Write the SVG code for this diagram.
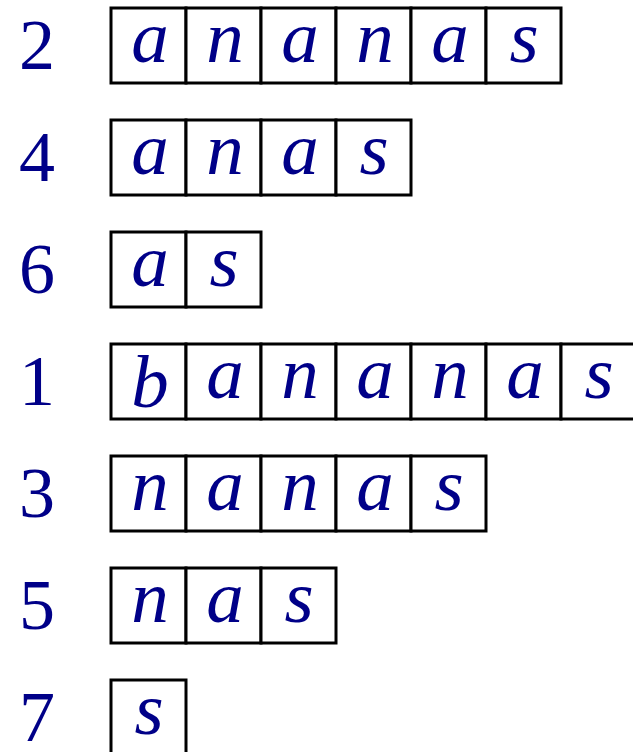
<svg xmlns="http://www.w3.org/2000/svg" width="633" height="752" viewBox="0 0 633 752">
<style>
rect.c{fill:#ffffff;stroke:#000000;stroke-width:3}
text{fill:#000088;font-family:"Liberation Serif","Times New Roman",serif;font-size:72px;text-anchor:middle}
text.l{font-style:italic;font-size:75px}
</style>
<rect x="0" y="0" width="633" height="752" fill="#ffffff"/>
<g id="row-2">
<text x="37" y="69">2</text>
<g id="r2c1"><rect class="c" x="111" y="8" width="75" height="75"/><text class="l" x="150" y="62">a</text></g>
<g id="r2c2"><rect class="c" x="186" y="8" width="75" height="75"/><text class="l" x="225" y="62">n</text></g>
<g id="r2c3"><rect class="c" x="261" y="8" width="75" height="75"/><text class="l" x="300" y="62">a</text></g>
<g id="r2c4"><rect class="c" x="336" y="8" width="75" height="75"/><text class="l" x="375" y="62">n</text></g>
<g id="r2c5"><rect class="c" x="411" y="8" width="75" height="75"/><text class="l" x="450" y="62">a</text></g>
<g id="r2c6"><rect class="c" x="486" y="8" width="75" height="75"/><text class="l" x="524" y="62">s</text></g>
</g>
<g id="row-4">
<text x="37" y="181">4</text>
<g id="r4c1"><rect class="c" x="111" y="120" width="75" height="75"/><text class="l" x="150" y="174">a</text></g>
<g id="r4c2"><rect class="c" x="186" y="120" width="75" height="75"/><text class="l" x="225" y="174">n</text></g>
<g id="r4c3"><rect class="c" x="261" y="120" width="75" height="75"/><text class="l" x="300" y="174">a</text></g>
<g id="r4c4"><rect class="c" x="336" y="120" width="75" height="75"/><text class="l" x="374" y="174">s</text></g>
</g>
<g id="row-6">
<text x="37" y="293">6</text>
<g id="r6c1"><rect class="c" x="111" y="232" width="75" height="75"/><text class="l" x="150" y="286">a</text></g>
<g id="r6c2"><rect class="c" x="186" y="232" width="75" height="75"/><text class="l" x="224" y="286">s</text></g>
</g>
<g id="row-1">
<text x="37" y="405">1</text>
<g id="r1c1"><rect class="c" x="111" y="344" width="75" height="75"/><text class="l" x="150" y="407">b</text></g>
<g id="r1c2"><rect class="c" x="186" y="344" width="75" height="75"/><text class="l" x="225" y="398">a</text></g>
<g id="r1c3"><rect class="c" x="261" y="344" width="75" height="75"/><text class="l" x="300" y="398">n</text></g>
<g id="r1c4"><rect class="c" x="336" y="344" width="75" height="75"/><text class="l" x="375" y="398">a</text></g>
<g id="r1c5"><rect class="c" x="411" y="344" width="75" height="75"/><text class="l" x="450" y="398">n</text></g>
<g id="r1c6"><rect class="c" x="486" y="344" width="75" height="75"/><text class="l" x="525" y="398">a</text></g>
<g id="r1c7"><rect class="c" x="561" y="344" width="75" height="75"/><text class="l" x="599" y="398">s</text></g>
</g>
<g id="row-3">
<text x="37" y="517">3</text>
<g id="r3c1"><rect class="c" x="111" y="456" width="75" height="75"/><text class="l" x="150" y="510">n</text></g>
<g id="r3c2"><rect class="c" x="186" y="456" width="75" height="75"/><text class="l" x="225" y="510">a</text></g>
<g id="r3c3"><rect class="c" x="261" y="456" width="75" height="75"/><text class="l" x="300" y="510">n</text></g>
<g id="r3c4"><rect class="c" x="336" y="456" width="75" height="75"/><text class="l" x="375" y="510">a</text></g>
<g id="r3c5"><rect class="c" x="411" y="456" width="75" height="75"/><text class="l" x="449" y="510">s</text></g>
</g>
<g id="row-5">
<text x="37" y="629">5</text>
<g id="r5c1"><rect class="c" x="111" y="568" width="75" height="75"/><text class="l" x="150" y="622">n</text></g>
<g id="r5c2"><rect class="c" x="186" y="568" width="75" height="75"/><text class="l" x="225" y="622">a</text></g>
<g id="r5c3"><rect class="c" x="261" y="568" width="75" height="75"/><text class="l" x="299" y="622">s</text></g>
</g>
<g id="row-7">
<text x="37" y="741">7</text>
<g id="r7c1"><rect class="c" x="111" y="680" width="75" height="75"/><text class="l" x="149" y="734">s</text></g>
</g>
</svg>
